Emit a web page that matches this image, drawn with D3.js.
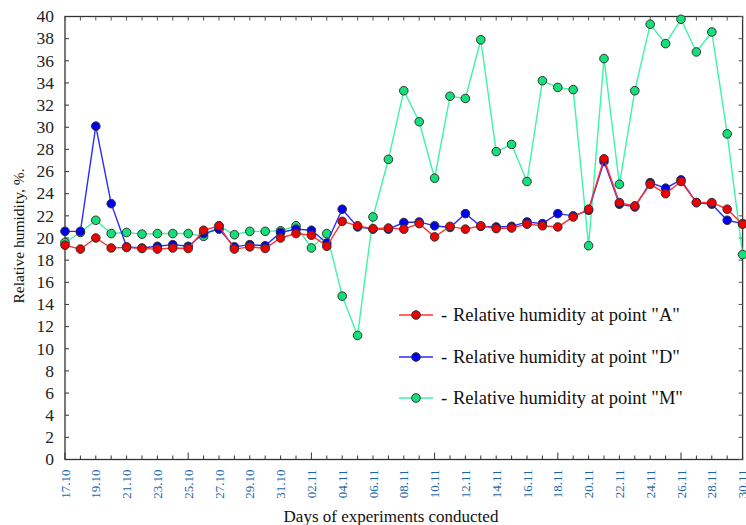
<!DOCTYPE html>
<html>
<head>
<meta charset="utf-8">
<script src="https://cdn.jsdelivr.net/npm/d3@7"></script>
<style>
  html, body { margin: 0; padding: 0; background: #fff; }
  svg { display: block; }
</style>
</head>
<body>
<div id="chart"></div>
<script>
// ---- Data ----
const days = [
  "17.10","18.10","19.10","20.10","21.10","22.10","23.10","24.10","25.10","26.10",
  "27.10","28.10","29.10","30.10","31.10","01.11","02.11","03.11","04.11","05.11",
  "06.11","07.11","08.11","09.11","10.11","11.11","12.11","13.11","14.11","15.11",
  "16.11","17.11","18.11","19.11","20.11","21.11","22.11","23.11","24.11","25.11",
  "26.11","27.11","28.11","29.11","30.11"
];
const pointA = [
  19.35,19.0,20.0,19.1,19.15,19.05,19.0,19.1,19.05,20.7,
  21.1,19.0,19.2,19.05,20.0,20.4,20.25,19.25,21.5,21.1,
  20.85,20.9,20.8,21.3,20.1,21.05,20.8,21.1,20.85,20.9,
  21.25,21.1,21.0,21.9,22.6,27.15,23.2,22.9,24.85,24.0,
  25.1,23.2,23.2,22.6,21.25
];
const pointD = [
  20.6,20.6,30.1,23.1,19.2,19.1,19.25,19.4,19.25,20.4,
  20.8,19.2,19.4,19.3,20.5,20.8,20.7,19.55,22.6,21.0,
  20.8,20.8,21.4,21.45,21.1,20.95,22.2,21.05,21.0,21.05,
  21.45,21.3,22.2,22.0,22.5,26.9,23.05,22.8,25.0,24.5,
  25.25,23.2,23.05,21.6,21.3
];
const pointM = [
  19.6,20.5,21.6,20.4,20.5,20.35,20.4,20.4,20.4,20.15,
  21.1,20.3,20.6,20.6,20.65,21.1,19.1,20.4,14.75,11.2,
  21.9,27.1,33.3,30.5,25.4,32.8,32.6,37.9,27.8,28.45,
  25.1,34.2,33.6,33.4,19.3,36.2,24.85,33.3,39.3,37.55,
  39.75,36.8,38.6,29.4,18.5
];
const yTicks = [0,2,4,6,8,10,12,14,16,18,20,22,24,26,28,30,32,34,36,38,40];
const seriesNames = [
  'Relative humidity at point "A"',
  'Relative humidity at point "D"',
  'Relative humidity at point "M"'
];

// ---- Layout ----
const W = 746, H = 525;
const L = 65, R = 742.6, T = 16.5, B = 459.5;

const svg = d3.select("#chart").append("svg")
  .attr("width", W).attr("height", H)
  .style("background", "#fff");

const x = d3.scaleLinear().domain([0, days.length - 1]).range([L, R]);
const y = d3.scaleLinear().domain([0, 40]).range([B, T]);

const serif = "'Liberation Serif', 'Times New Roman', serif";

// frame
svg.append("rect")
  .attr("x", L).attr("y", T).attr("width", R - L).attr("height", B - T)
  .attr("fill", "none").attr("stroke", "#333").attr("stroke-width", 1.3);

// y ticks (inside on left and right)
const gy = svg.append("g");
yTicks.forEach(v => {
  gy.append("line").attr("x1", L).attr("x2", L + 4).attr("y1", y(v)).attr("y2", y(v))
    .attr("stroke", "#333").attr("stroke-width", 1);
  gy.append("line").attr("x1", R - 4).attr("x2", R).attr("y1", y(v)).attr("y2", y(v))
    .attr("stroke", "#555").attr("stroke-width", 1);
  gy.append("text").attr("x", 54).attr("y", y(v)).attr("dy", "0.33em")
    .attr("text-anchor", "end").attr("font-family", serif).attr("font-size", 17.5)
    .attr("fill", "#222").text(v);
});

// x ticks (inside, top and bottom)
const gx = svg.append("g");
days.forEach((d, i) => {
  const len = (i % 8 === 0) ? 7 : 4;
  gx.append("line").attr("x1", x(i)).attr("x2", x(i)).attr("y1", B).attr("y2", B - len)
    .attr("stroke", "#333").attr("stroke-width", 1);
  gx.append("line").attr("x1", x(i)).attr("x2", x(i)).attr("y1", T).attr("y2", T + 4)
    .attr("stroke", "#555").attr("stroke-width", 1);
  if (i % 2 === 0) {
    gx.append("text")
      .attr("transform", `translate(${x(i) + 4.5},${B + 10}) rotate(-90)`)
      .attr("text-anchor", "end").attr("font-family", serif).attr("font-size", 13)
      .attr("fill", "#1a66a8").text(d);
  }
});

// axis titles
svg.append("text").attr("transform", "translate(24,236) rotate(-90)")
  .attr("text-anchor", "middle").attr("font-family", serif).attr("font-size", 15.5)
  .attr("fill", "#111").text("Relative humidity, %.");
svg.append("text").attr("x", 391).attr("y", 522)
  .attr("text-anchor", "middle").attr("font-family", serif).attr("font-size", 17)
  .attr("fill", "#111").text("Days of experiments conducted");

// series
const series = [
  { name: seriesNames[2], values: pointM, line: "#3cf5a5", fill: "#14e07a" },
  { name: seriesNames[1], values: pointD, line: "#2a2aff", fill: "#0000f0" },
  { name: seriesNames[0], values: pointA, line: "#ff3333", fill: "#ee0000" }
];
const lineGen = d3.line().x((d, i) => x(i)).y(d => y(d));

series.forEach(s => {
  svg.append("path").datum(s.values).attr("d", lineGen)
    .attr("fill", "none").attr("stroke", s.line).attr("stroke-width", 1.4);
  svg.append("g").selectAll("circle").data(s.values).join("circle")
    .attr("cx", (d, i) => x(i)).attr("cy", d => y(d)).attr("r", 4.3)
    .attr("fill", s.fill).attr("stroke", "#333").attr("stroke-width", 1);
});

// legend
const legend = [
  { name: seriesNames[0], line: "#ff3333", fill: "#ee0000", y: 315 },
  { name: seriesNames[1], line: "#2a2aff", fill: "#0000f0", y: 357 },
  { name: seriesNames[2], line: "#3cf5a5", fill: "#14e07a", y: 398 }
];
legend.forEach(l => {
  const g = svg.append("g");
  g.append("line").attr("x1", 399).attr("x2", 433).attr("y1", l.y).attr("y2", l.y)
    .attr("stroke", l.line).attr("stroke-width", 1.4);
  g.append("circle").attr("cx", 416).attr("cy", l.y).attr("r", 4.3)
    .attr("fill", l.fill).attr("stroke", "#333").attr("stroke-width", 1);
  g.append("text").attr("x", 441).attr("y", l.y).attr("dy", "0.33em")
    .attr("font-family", serif).attr("font-size", 18.5).attr("fill", "#111")
    .text("-");
  g.append("text").attr("x", 453).attr("y", l.y).attr("dy", "0.33em")
    .attr("font-family", serif).attr("font-size", 18.5).attr("fill", "#111")
    .text(l.name);
});
</script>
</body>
</html>
